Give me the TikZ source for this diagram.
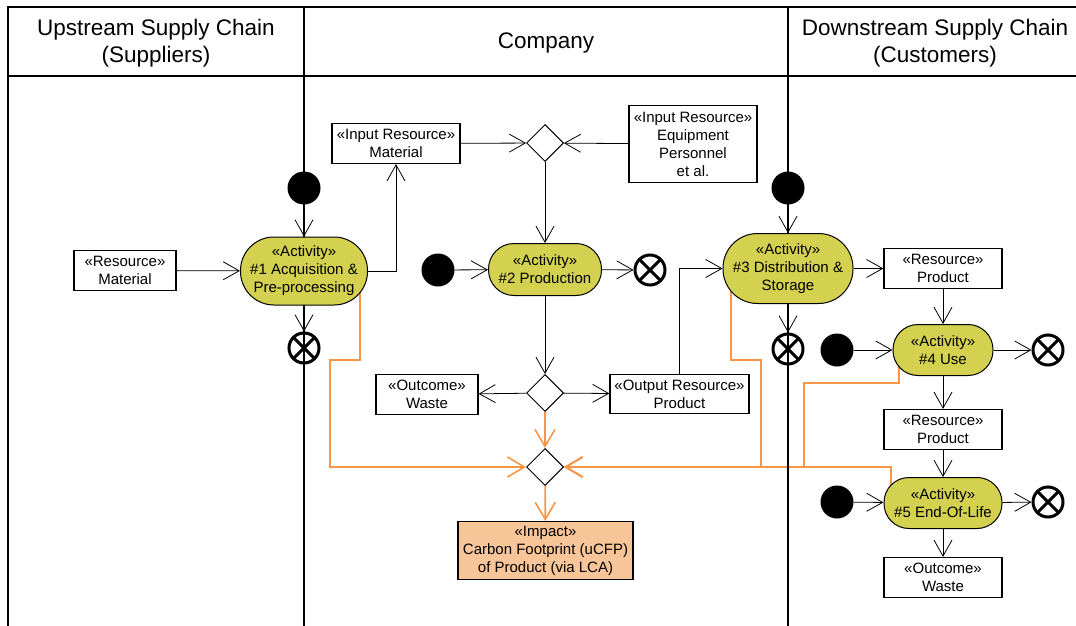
\documentclass[tikz,border=0pt]{standalone}
\usepackage{fontspec}
\setmainfont{Liberation Sans}
\usetikzlibrary{arrows.meta,shapes.geometric,backgrounds}
\definecolor{actfill}{RGB}{211,209,79}
\definecolor{impfill}{RGB}{248,197,152}
\definecolor{orng}{RGB}{247,150,70}
\begin{document}
\begin{tikzpicture}[x=1pt,y=-1pt,
  every node/.style={font=\fontsize{15}{18}\selectfont, align=center, inner sep=0pt},
  box/.style={draw, line width=1.2pt, rectangle},
  act/.style={draw, line width=1pt, fill=actfill, rectangle},
  initnode/.style={circle, fill=black, minimum size=33pt},
  finalnode/.style={circle, draw, line width=3pt, minimum size=30pt,
    path picture={\draw[line width=3pt] (path picture bounding box.north west) -- (path picture bounding box.south east)
      (path picture bounding box.north east) -- (path picture bounding box.south west);}},
  dec/.style={diamond, draw, line width=1pt, minimum width=37pt, minimum height=37pt},
  flow/.style={line width=0.8pt, -{Straight Barb[length=16pt,width=18pt]}},
  oflow/.style={draw=orng, line width=1.6pt, -{Straight Barb[length=17pt,width=20pt]}},
  lane/.style={line width=1.5pt},
  hdr/.style={font=\fontsize{22.5}{27}\selectfont}
]
\useasboundingbox (0,0) rectangle (1076,626);
% swimlanes
\draw[lane] (8,626) -- (8,7) -- (1076,7);
\draw[lane] (8,76) -- (1076,76);
\draw[lane] (304,7) -- (304,626);
\draw[lane] (788,7) -- (788,626);
\node[hdr] (h1) at (156,43) {Upstream Supply Chain\\(Suppliers)};
\node[hdr] (h2) at (546,43) {Company};
\node[hdr] (h3) at (935,43) {Downstream Supply Chain\\(Customers)};

% lane 1
\node[initnode] (i1) at (304,188) {};
\node[act, minimum width=127pt, minimum height=68pt, rounded corners=33.5pt] (a1) at (304,271) {«Activity»\\\#1 Acquisition \&\\Pre-processing};
\node[finalnode] (f1) at (304,348) {};
\node[box, minimum width=102pt, minimum height=40pt] (r1) at (125,270.5) {«Resource»\\Material};

% company
\node[box, minimum width=128pt, minimum height=40pt] (m1) at (396,143.5) {«Input Resource»\\Material};
\node[dec] (d1) at (545,143) {};
\node[box, minimum width=128pt, minimum height=77pt] (e1) at (693,144) {«Input Resource»\\Equipment\\Personnel\\et al.};
\node[initnode] (i2) at (438,270) {};
\node[act, minimum width=113pt, minimum height=52pt, rounded corners=25.5pt] (a2) at (545,269.5) {«Activity»\\\#2 Production};
\node[finalnode] (f2) at (650,270) {};
\node[dec] (d2) at (545,393) {};
\node[box, minimum width=102pt, minimum height=40pt] (w1) at (427,394.5) {«Outcome»\\Waste};
\node[box, minimum width=139pt, minimum height=39pt] (o1) at (679.5,394) {«Output Resource»\\Product};
\node[dec] (d3) at (545,467) {};
\node[box, fill=impfill, minimum width=175pt, minimum height=58pt] (imp) at (545.5,550.5) {«Impact»\\Carbon Footprint (uCFP)\\of Product (via LCA)};

% downstream
\node[initnode] (i3) at (788,188) {};
\node[act, minimum width=130pt, minimum height=70pt, rounded corners=34.5pt] (a3) at (788,268.5) {«Activity»\\\#3 Distribution \&\\Storage};
\node[finalnode] (f3) at (788,349) {};
\node[box, minimum width=118pt, minimum height=40pt] (p1) at (943,268.5) {«Resource»\\Product};
\node[initnode] (i4) at (837,350) {};
\node[act, minimum width=100pt, minimum height=51pt, rounded corners=25pt] (a4) at (943,350) {«Activity»\\\#4 Use};
\node[finalnode] (f4) at (1048,350) {};
\node[box, minimum width=118pt, minimum height=40pt] (p2) at (943,429.5) {«Resource»\\Product};
\node[initnode] (i5) at (837,502) {};
\node[act, minimum width=118pt, minimum height=51pt, rounded corners=25pt] (a5) at (943,503) {«Activity»\\\#5 End-Of-Life};
\node[finalnode] (f5) at (1048,502) {};
\node[box, minimum width=118pt, minimum height=40pt] (w2) at (943,577.5) {«Outcome»\\Waste};

% black flows
\draw[flow] (i1) -- (a1);
\draw[flow] (a1) -- (f1);
\draw[flow] (r1) -- (a1);
\draw[flow] (a1.east) -| (m1.south);
\draw[flow] (m1) -- (d1);
\draw[flow] (e1) -- (d1);
\draw[flow] (d1) -- (a2);
\draw[flow] (i2) -- (a2);
\draw[flow] (a2) -- (f2);
\draw[flow] (a2) -- (d2);
\draw[flow] (d2) -- (w1);
\draw[flow] (d2) -- (o1);
\draw[flow] (o1.north) |- (a3.west);
\draw[flow] (i3) -- (a3);
\draw[flow] (a3) -- (f3);
\draw[flow] (a3) -- (p1);
\draw[flow] (p1) -- (a4);
\draw[flow] (i4) -- (a4);
\draw[flow] (a4) -- (f4);
\draw[flow] (a4) -- (p2);
\draw[flow] (p2) -- (a5);
\draw[flow] (i5) -- (a5);
\draw[flow] (a5) -- (f5);
\draw[flow] (a5) -- (w2);

% orange flows
\draw[oflow] (d2) -- (d3);
\draw[oflow] (d3) -- (imp);
\begin{scope}[on background layer]
\draw[oflow] ([xshift=56pt]a1.center) -- (360,360) -- (330,360) |- (d3.west);
\draw[oflow] ([xshift=-57pt]a3.center) -- (731,360) -- (761,360) |- (d3.east);
\draw[oflow] ([xshift=-44pt]a4.center) -- (899,383) -- (804,383) |- (d3.east);
\draw[oflow] ([xshift=-52pt]a5.center) -- (891,467) -- (d3.east);
\end{scope}
\end{tikzpicture}
\end{document}
